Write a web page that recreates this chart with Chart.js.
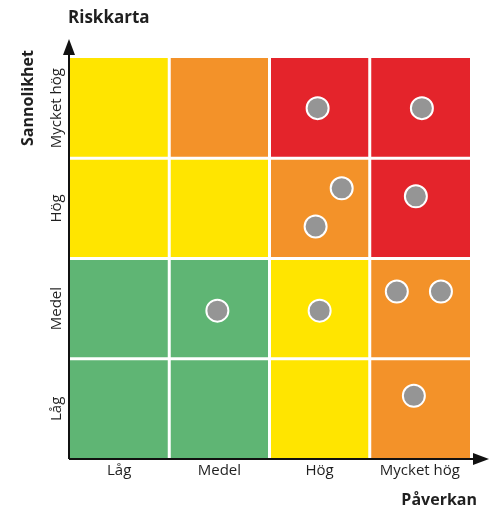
<!DOCTYPE html>
<html>
<head>
<meta charset="utf-8">
<script src="https://cdn.jsdelivr.net/npm/chart.js@4"></script>
<style>
  body { margin: 0; background: #fff; }
  #wrap { width: 495px; height: 508px; }
</style>
</head>
<body>
<div id="wrap"><canvas id="risk"></canvas></div>
<script>
const xLabels = ["Låg", "Medel", "Hög", "Mycket hög"];
const yLabels = ["Låg", "Medel", "Hög", "Mycket hög"];

// cell colour per row (bottom to top), columns left to right
const cellColors = [
  ["#5FB574", "#5FB574", "#FFE500", "#F39229"],
  ["#5FB574", "#5FB574", "#FFE500", "#F39229"],
  ["#FFE500", "#FFE500", "#F39229", "#E4242B"],
  ["#FFE500", "#F39229", "#E4242B", "#E4242B"]
];

const riskX = [2.48, 3.52, 2.72, 2.46, 3.46, 1.48, 2.5, 3.27, 3.71, 3.44];
const riskY = [3.5, 3.5, 2.7, 2.32, 2.62, 1.48, 1.48, 1.67, 1.67, 0.63];

const FONT = "'Open Sans', sans-serif";
const TEXT = "#1f1f1f";

const riskGrid = {
  id: "riskGrid",
  beforeDatasetsDraw(chart) {
    const { ctx, scales: { x, y } } = chart;
    const gap = 1.5;
    ctx.save();
    cellColors.forEach((row, r) => {
      row.forEach((color, c) => {
        const left = x.getPixelForValue(c) + (c > 0 ? gap : 0);
        const right = x.getPixelForValue(c + 1) - (c < 3 ? gap : 0);
        const top = y.getPixelForValue(r + 1) + (r < 3 ? gap : 0);
        const bottom = y.getPixelForValue(r) - (r > 0 ? gap : 0);
        ctx.fillStyle = color;
        ctx.fillRect(left, top, right - left, bottom - top);
      });
    });
    ctx.restore();
  },
  afterDraw(chart) {
    const { ctx, chartArea: a, scales: { y } } = chart;
    ctx.save();
    // axis lines with arrows
    ctx.strokeStyle = "#111";
    ctx.fillStyle = "#111";
    ctx.lineWidth = 2;
    ctx.beginPath();
    ctx.moveTo(a.left, a.bottom);
    ctx.lineTo(a.left, a.top - 4);
    ctx.moveTo(a.left, a.bottom);
    ctx.lineTo(a.right + 4, a.bottom);
    ctx.stroke();
    ctx.beginPath();
    ctx.moveTo(a.left, a.top - 19);
    ctx.lineTo(a.left - 6, a.top - 3);
    ctx.lineTo(a.left + 6, a.top - 3);
    ctx.closePath();
    ctx.fill();
    ctx.beginPath();
    ctx.moveTo(a.right + 19, a.bottom);
    ctx.lineTo(a.right + 3, a.bottom - 6);
    ctx.lineTo(a.right + 3, a.bottom + 6);
    ctx.closePath();
    ctx.fill();

    // y tick labels, rotated
    ctx.fillStyle = TEXT;
    ctx.font = "15px " + FONT;
    ctx.textAlign = "center";
    ctx.textBaseline = "middle";
    yLabels.forEach((label, i) => {
      ctx.save();
      ctx.translate(a.left - 12, y.getPixelForValue(i + 0.5));
      ctx.rotate(-Math.PI / 2);
      ctx.fillText(label, 0, 0);
      ctx.restore();
    });

    // titles
    ctx.font = "bold 17px " + FONT;
    ctx.textAlign = "left";
    ctx.fillText("Riskkarta", a.left - 1, 18);
    ctx.font = "bold 16px " + FONT;
    ctx.textAlign = "right";
    ctx.fillText("Påverkan", a.right + 7, 500);
    ctx.save();
    ctx.translate(28, 98);
    ctx.rotate(-Math.PI / 2);
    ctx.textAlign = "center";
    ctx.fillText("Sannolikhet", 0, 0);
    ctx.restore();
    ctx.restore();
  }
};

new Chart(document.getElementById("risk"), {
  type: "scatter",
  data: {
    datasets: [
      {
        label: "Risker",
        data: riskX.map((v, i) => ({ x: v, y: riskY[i] })),
        backgroundColor: "#959595",
        borderColor: "#ffffff",
        borderWidth: 2,
        pointRadius: 11,
        pointHoverRadius: 11
      }
    ]
  },
  options: {
    responsive: true,
    maintainAspectRatio: false,
    animation: false,
    layout: { padding: { left: 69, top: 58, right: 25, bottom: 25 } },
    plugins: {
      legend: { display: false },
      tooltip: { enabled: false }
    },
    scales: {
      x: {
        type: "linear",
        min: 0,
        max: 4,
        afterBuildTicks: (scale) => {
          scale.ticks = xLabels.map((_, i) => ({ value: i + 0.5 }));
        },
        ticks: {
          callback: (value) => xLabels[Math.floor(value)],
          color: TEXT,
          font: { family: FONT, size: 15 },
          padding: 3,
          maxRotation: 0
        },
        grid: { display: false, drawTicks: false },
        border: { display: false }
      },
      y: {
        type: "linear",
        min: 0,
        max: 4,
        ticks: { display: false },
        grid: { display: false, drawTicks: false },
        border: { display: false }
      }
    }
  },
  plugins: [riskGrid]
});
</script>
</body>
</html>
